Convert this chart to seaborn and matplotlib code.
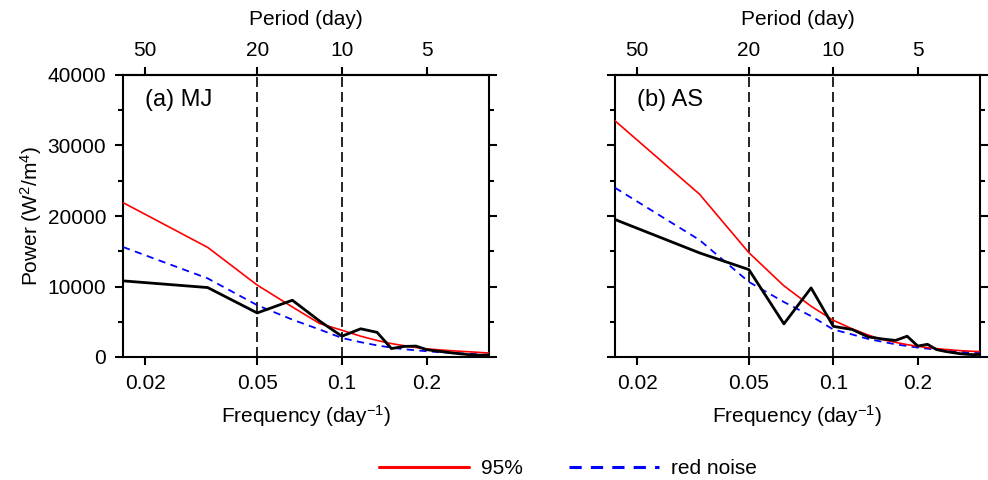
import pandas as pd
import seaborn as sns
import matplotlib.pyplot as plt
from matplotlib.ticker import MultipleLocator, NullLocator

# frecuencias (day^-1), k/60 para k = 1..20
freq = [0.016667, 0.033333, 0.05, 0.066667, 0.083333, 0.1, 0.116667, 0.133333, 0.15, 0.166667,
        0.183333, 0.2, 0.216667, 0.233333, 0.25, 0.266667, 0.283333, 0.3, 0.316667, 0.333333]

# (a) MJ
mj_power = [10800, 9850, 6250, 8050, 5100, 2950, 4000, 3500, 1200, 1500,
            1550, 1050, 850, 700, 550, 430, 330, 280, 240, 280]
mj_95 = [21900, 15550, 10200, 7100, 4750, 3800, 2950, 2350, 1900, 1600,
         1350, 1150, 1050, 950, 870, 800, 740, 680, 620, 570]
mj_red = [15600, 11150, 7350, 5300, 3900, 2700, 2100, 1650, 1330, 1100,
          950, 820, 720, 640, 570, 510, 450, 400, 340, 290]

# (b) AS
as_power = [19500, 14770, 12400, 4700, 9800, 4350, 3900, 2850, 2550, 2350,
            2950, 1550, 1800, 1050, 800, 620, 470, 380, 330, 380]
as_95 = [33500, 23100, 14800, 10100, 7200, 5200, 4000, 3100, 2450, 2080,
         1750, 1520, 1330, 1180, 1080, 990, 900, 850, 800, 760]
as_red = [24000, 16600, 10650, 7800, 5800, 3900, 3200, 2550, 2150, 1800,
          1560, 1330, 1180, 1040, 940, 850, 760, 660, 620, 570]

paneles = ["(a) MJ", "(b) AS"]
xticks = [0.02, 0.05, 0.1, 0.2]
xticklabels = ["0.02", "0.05", "0.1", "0.2"]
periodos = ["50", "20", "10", "5"]

sns.set_style("ticks")
plt.rcParams['font.family'] = ['Liberation Sans', 'DejaVu Sans']
plt.rcParams['mathtext.fontset'] = 'custom'
plt.rcParams['mathtext.rm'] = 'Liberation Sans'
plt.rcParams['mathtext.it'] = 'Liberation Sans:italic'
for clave in ['text.color', 'axes.labelcolor', 'xtick.color', 'ytick.color', 'axes.edgecolor']:
    plt.rcParams[clave] = 'black'

fig = plt.figure(figsize=(9.88, 4.8), dpi=100)
ax_a = fig.add_axes([0.1245, 0.25625, 0.3704, 0.5875])
ax_b = fig.add_axes([0.6225, 0.25625, 0.3694, 0.5875])

datos = [(mj_power, mj_95, mj_red), (as_power, as_95, as_red)]
handles = []

for i, ax in enumerate([ax_a, ax_b]):
    power, sig95, red = datos[i]
    df = pd.DataFrame({'freq': freq, 'power': power, 'sig95': sig95, 'red': red})
    ax.set_xscale('log')

    sns.lineplot(data=df, x='freq', y='red', ax=ax, color='blue', lw=1.3, legend=False, zorder=3)
    l_red = ax.get_lines()[-1]
    l_red.set_dashes((4, 3))
    sns.lineplot(data=df, x='freq', y='sig95', ax=ax, color='red', lw=1.2, legend=False, zorder=4)
    l_95 = ax.get_lines()[-1]
    sns.lineplot(data=df, x='freq', y='power', ax=ax, color='black', lw=2.0, legend=False, zorder=5)
    if i == 0:
        handles = [l_95, l_red]

    for xv in [0.05, 0.1]:
        ax.axvline(xv, color='black', lw=1.2, ls=(0, (6, 3)), zorder=2)

    ax.set_xlim(freq[0], freq[-1])
    ax.set_ylim(0, 40000)
    ax.set_xticks(xticks)
    ax.set_xticklabels(xticklabels)
    ax.xaxis.set_minor_locator(NullLocator())
    ax.yaxis.set_major_locator(MultipleLocator(10000))
    ax.yaxis.set_minor_locator(MultipleLocator(5000))
    ax.tick_params(axis='both', which='major', direction='out', length=6, width=1.5, labelsize=15, pad=6)
    ax.tick_params(axis='y', which='minor', direction='out', length=3.5, width=1.5)
    ax.tick_params(axis='y', which='both', right=True)
    for s in ax.spines.values():
        s.set_visible(True)
        s.set_linewidth(1.5)

    ax.set_xlabel("Frequency (day$^{-1}$)", fontsize=15)
    ax.xaxis.set_label_coords(0.5, -0.165)
    ax.set_ylabel("")

    # eje superior con el periodo
    top = ax.secondary_xaxis('top')
    top.set_xticks(xticks)
    top.set_xticklabels(periodos)
    top.xaxis.set_minor_locator(NullLocator())
    top.tick_params(axis='x', which='major', direction='out', length=6, width=1.5, labelsize=15, pad=5)
    top.spines['top'].set_linewidth(1.5)
    top.set_xlabel("Period (day)", fontsize=15, labelpad=11)

    ax.text(0.06, 0.91, paneles[i], transform=ax.transAxes, fontsize=17, va='center', ha='left')

ax_a.set_ylabel("Power (W$^{2}$/m$^{4}$)", fontsize=15)
ax_a.yaxis.set_label_coords(-0.215, 0.5)
ax_b.tick_params(axis='y', labelleft=False)

leg = fig.legend(handles, ["95%", "red noise"], loc='center', bbox_to_anchor=(568 / 988, 1 - 469 / 480),
                 ncol=2, frameon=False, fontsize=15, handlelength=4.3, handletextpad=0.6, columnspacing=2.2)
for linea in leg.get_lines():
    linea.set_linewidth(2.2)

fig.savefig("out.png", dpi=100)
